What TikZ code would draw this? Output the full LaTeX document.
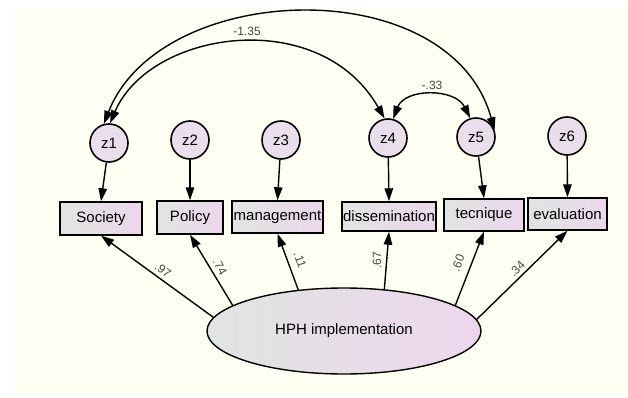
\documentclass[tikz,border=0pt]{standalone}
\usepackage{fontspec}
\setmainfont{Liberation Sans}
\usetikzlibrary{shapes.geometric,arrows.meta}
\definecolor{bgc}{RGB}{255,255,243}
\definecolor{lc}{RGB}{224,229,225}
\definecolor{rc}{RGB}{237,214,237}
\definecolor{cc}{RGB}{234,222,236}
\definecolor{coefc}{RGB}{70,70,70}
\begin{document}
\begin{tikzpicture}[x=1pt,y=-1pt,
  lat/.style={circle, draw, line width=1.6pt, minimum size=38pt, inner sep=0pt, fill=cc, font=\fontsize{15}{17}\selectfont},
  obs/.style={rectangle, draw, line width=1.4pt, inner sep=0pt, left color=lc, right color=rc, font=\fontsize{15}{17}\selectfont},
  arr/.style={-{Triangle[length=13pt,width=8.5pt]}, line width=1.4pt},
  cov/.style={{Triangle[length=13pt,width=8.5pt]}-{Triangle[length=13pt,width=8.5pt]}, line width=1.4pt},
  coef/.style={font=\fontsize{12}{13}\selectfont, text=coefc, inner sep=0pt}]
\useasboundingbox (0,0) rectangle (628,398);
\fill[white] (0,0) rectangle (628,398);
\fill[bgc] (14,8) rectangle (628,396);
% latent error terms
\node[lat] (z1) at (109,143) {z1};
\node[lat] (z2) at (190,140) {z2};
\node[lat] (z3) at (281,140) {z3};
\node[lat] (z4) at (388,138) {z4};
\node[lat] (z5) at (476,137) {z5};
\node[lat] (z6) at (567,136) {z6};
% observed
\node[obs, minimum width=82pt, minimum height=33pt] (soc) at (101,218.5) {Society};
\node[obs, minimum width=66pt, minimum height=33pt] (pol) at (190,217.5) {Policy};
\node[obs, minimum width=91pt, minimum height=32pt] (man) at (277.5,217) {management};
\node[obs, minimum width=94pt, minimum height=29pt] (dis) at (389,216.5) {dissemination};
\node[obs, minimum width=80pt, minimum height=32pt] (tec) at (484,215) {tecnique};
\node[obs, minimum width=79pt, minimum height=32pt] (eva) at (567.5,214) {evaluation};
% factor
\node[ellipse, draw, line width=1.4pt, inner sep=0pt, minimum width=274pt, minimum height=86pt,
      left color=lc, right color=rc, font=\fontsize{15}{17}\selectfont] (hph) at (344,331) {HPH implementation};
% error arrows
\draw[arr] (z1) -- (soc.north);
\draw[arr] (z2) -- (pol.north);
\draw[arr] (z3) -- (man.north);
\draw[arr] (z4) -- (dis.north);
\draw[arr] (z5) -- (tec.north);
\draw[arr] (z6) -- (eva.north);
% loadings
\draw[arr] (hph.174) -- (soc.south);
\draw[arr] (hph.167) -- (pol.south);
\draw[arr] (hph.138) -- (man.south);
\draw[arr] (hph.46) -- (dis.south);
\draw[arr] (hph.13) -- (tec.south);
\draw[arr] (hph.5.5) -- (eva.south);
\node[coef, rotate=-36] (l1) at (163,270) {.97};
\node[coef, rotate=-61] (l2) at (220,267) {.74};
\node[coef, rotate=-70] (l3) at (300,260) {.11};
\node[coef, rotate=90] (l4) at (377,260) {.67};
\node[coef, rotate=68.6] (l5) at (458,263) {.60};
\node[coef, rotate=45] (l6) at (517,269) {.34};
% covariances
\draw[cov] (z1.87) .. controls (150,30) and (320,5) .. (z4.100);
\draw[cov] (z1.105) .. controls (160,-20) and (450,-30) .. (z5.20);
\draw[cov] (z4.75) .. controls (405,88) and (455,88) .. (z5.107);
\node[coef] (c1) at (247,31) {-1.35};
\node[coef] (c2) at (432,85) {-.33};
\node[coef] (c3) at (307,4) {.16};
\fill[white] (0,0) rectangle (628,8);
\end{tikzpicture}
\end{document}
